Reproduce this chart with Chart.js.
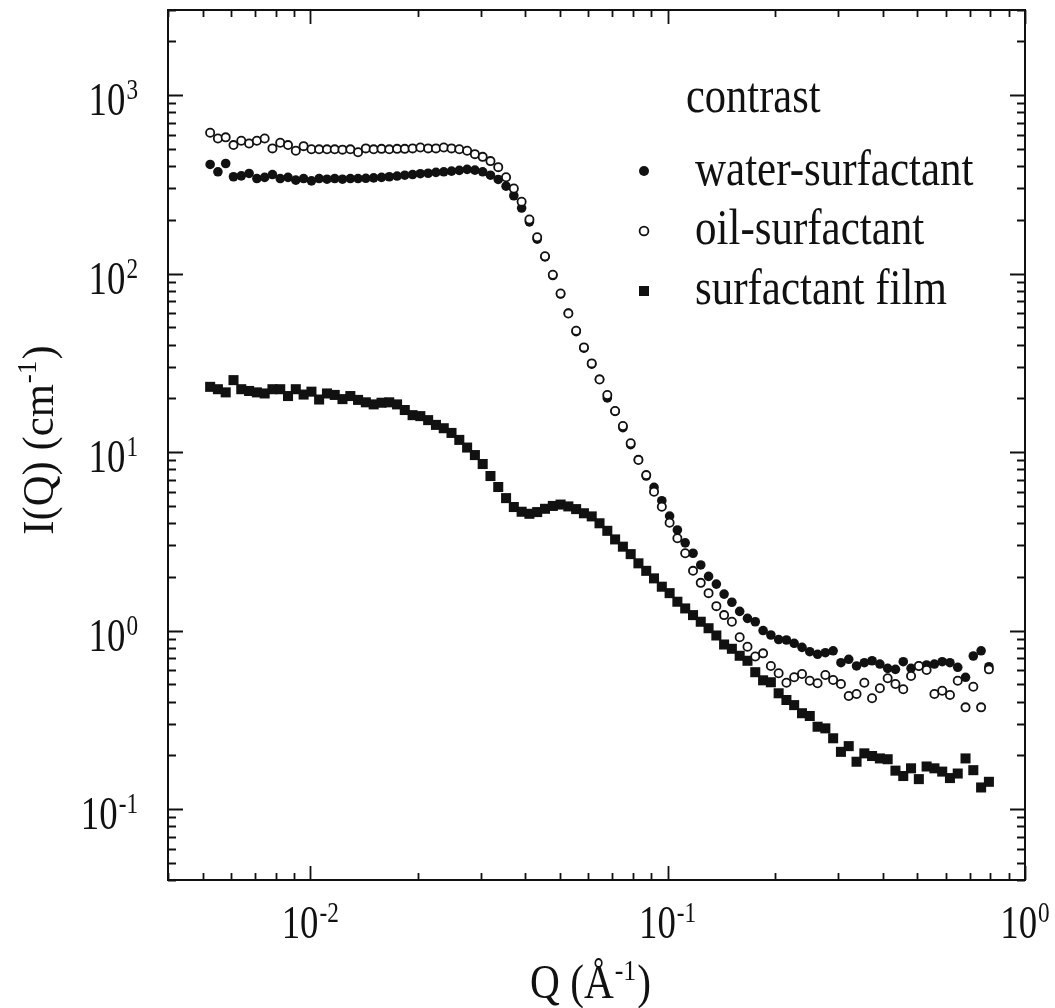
<!DOCTYPE html>
<html>
<head>
<meta charset="utf-8">
<script src="https://cdn.jsdelivr.net/npm/chart.js@4.4.1/dist/chart.umd.min.js"></script>
<style>
  html, body { margin: 0; padding: 0; background: #fff; }
  #wrap { width: 1055px; height: 1008px; }
</style>
</head>
<body>
<div id="wrap"><canvas id="c" width="1055" height="1008"></canvas></div>
<script>
// Q values (1/Angstrom)
const q = [
  0.005248, 0.005517, 0.005801, 0.006100, 0.006413, 0.006745, 0.007091, 0.007457, 0.007840, 0.008243,
  0.008667, 0.009113, 0.009583, 0.01008, 0.01059, 0.01114, 0.01171, 0.01231, 0.01295, 0.01361,
  0.01431, 0.01505, 0.01583, 0.01664, 0.01750, 0.01839, 0.01934, 0.02033, 0.02138, 0.02248,
  0.02364, 0.02485, 0.02613, 0.02748, 0.02889, 0.03038, 0.03194, 0.03358, 0.03532, 0.03713,
  0.03904, 0.04105, 0.04316, 0.04539, 0.04773, 0.05018, 0.05276, 0.05547, 0.05833, 0.06133,
  0.06449, 0.06781, 0.07130, 0.07497, 0.07883, 0.08286, 0.08713, 0.09162, 0.09634, 0.1013,
  0.1065, 0.1120, 0.1178, 0.1238, 0.1302, 0.1369, 0.1439, 0.1513, 0.1591, 0.1673,
  0.1759, 0.1850, 0.1945, 0.2045, 0.2150, 0.2260, 0.2377, 0.2499, 0.2628, 0.2763,
  0.2905, 0.3055, 0.3212, 0.3378, 0.3552, 0.3733, 0.3926, 0.4128, 0.4340, 0.4564,
  0.4799, 0.5046, 0.5305, 0.5579, 0.5866, 0.6166, 0.6483, 0.6817, 0.7168, 0.7537,
  0.7925
];

// I(Q) in cm^-1
const waterSurf = [
  409, 372, 414, 349, 353, 364, 341, 346, 359, 341,
  346, 334, 341, 331, 341, 338, 341, 338, 341, 341,
  342, 344, 346, 349, 352, 356, 359, 363, 365, 369,
  372, 375, 379, 384, 380, 372, 356, 337, 309, 273,
  233, 195, 156, 124, 97.5, 76.8, 60.1, 47.3, 38.2, 31.1,
  25.6, 20.1, 16.9, 13.7, 11.0, 9.08, 7.34, 6.34, 5.34, 4.38,
  3.66, 3.10, 2.71, 2.33, 2.01, 1.82, 1.60, 1.44, 1.28, 1.17,
  1.12, 1.00, 0.944, 0.890, 0.885, 0.848, 0.805, 0.761, 0.736, 0.751,
  0.770, 0.660, 0.690, 0.633, 0.660, 0.677, 0.649, 0.614, 0.606, 0.669,
  0.614, 0.633, 0.641, 0.649, 0.669, 0.660, 0.622, 0.547, 0.720, 0.770,
  0.627
];

const oilSurf = [
  615, 572, 580, 525, 555, 536, 555, 572, 503, 541,
  525, 488, 518, 498, 497, 497, 497, 495, 497, 479,
  503, 497, 500, 497, 500, 500, 503, 509, 503, 503,
  509, 503, 498, 488, 467, 451, 427, 395, 347, 300,
  253, 201, 160, 125, 98.5, 77.4, 59.8, 47.8, 38.6, 31.4,
  25.5, 20.9, 17.0, 14.0, 11.2, 9.02, 7.43, 5.99, 4.94, 4.02,
  3.29, 2.71, 2.16, 1.85, 1.62, 1.37, 1.22, 1.12, 0.916, 0.811,
  0.715, 0.745, 0.633, 0.576, 0.510, 0.547, 0.571, 0.523, 0.506, 0.563,
  0.528, 0.502, 0.430, 0.441, 0.510, 0.417, 0.475, 0.540, 0.502, 0.469,
  0.556, 0.633, 0.601, 0.441, 0.460, 0.435, 0.523, 0.371, 0.484, 0.371,
  0.606
];

const surfFilm = [
  23.2, 22.5, 21.6, 25.3, 22.5, 22.0, 21.6, 21.3, 22.5, 22.5,
  20.6, 22.5, 21.0, 21.8, 19.7, 21.3, 20.9, 19.8, 20.6, 19.6,
  19.0, 18.5, 18.9, 19.0, 18.5, 17.2, 16.1, 15.9, 15.1, 14.2,
  13.6, 12.8, 11.7, 10.6, 9.62, 8.57, 7.34, 6.37, 5.52, 4.92,
  4.63, 4.51, 4.61, 4.81, 4.99, 5.08, 4.96, 4.79, 4.54, 4.36,
  3.99, 3.62, 3.24, 2.95, 2.68, 2.38, 2.16, 1.96, 1.76, 1.62,
  1.45, 1.33, 1.22, 1.12, 1.03, 0.938, 0.835, 0.790, 0.722, 0.677,
  0.584, 0.526, 0.513, 0.445, 0.408, 0.382, 0.344, 0.332, 0.289, 0.283,
  0.249, 0.209, 0.225, 0.184, 0.205, 0.198, 0.192, 0.190, 0.164, 0.153,
  0.169, 0.147, 0.173, 0.169, 0.162, 0.149, 0.158, 0.192, 0.165, 0.132,
  0.142
];

const legendLabels = ["water-surfactant", "oil-surfactant", "surfactant film"];
const xMajor = [0.01, 0.1, 1];
const xMajorExp = ["-2", "-1", "0"];
const yMajor = [0.1, 1, 10, 100, 1000];
const yMajorExp = ["-1", "0", "1", "2", "3"];

const INK = "#111";
const FONT = '"Liberation Serif", "Times New Roman", serif';

const pts = (ys) => q.map((x, i) => ({ x: x, y: ys[i] }));

// text with horizontal squeeze, returns drawn width
function drawText(ctx, s, x, y, size, sx) {
  ctx.save();
  ctx.font = size + "px " + FONT;
  const w = ctx.measureText(s).width * sx;
  ctx.translate(x, y);
  ctx.scale(sx, 1);
  ctx.fillText(s, 0, 0);
  ctx.restore();
  return w;
}
function textWidth(ctx, s, size, sx) {
  ctx.save();
  ctx.font = size + "px " + FONT;
  const w = ctx.measureText(s).width * sx;
  ctx.restore();
  return w;
}

// "10" with a superscript exponent
function powWidth(ctx, exp) {
  return textWidth(ctx, "10", 46, 0.8) + 1 + textWidth(ctx, exp, 29, 0.8);
}
function drawPow(ctx, exp, x, y) {
  const w = drawText(ctx, "10", x, y, 46, 0.8);
  drawText(ctx, exp, x + w + 1, y - 16, 29, 0.8);
}

const framePlugin = {
  id: "frame",
  afterDraw(chart) {
    const ctx = chart.ctx;
    const a = chart.chartArea;
    const xs = chart.scales.x, ys = chart.scales.y;
    ctx.save();
    ctx.fillStyle = INK;
    ctx.strokeStyle = INK;
    ctx.lineWidth = 2;
    ctx.strokeRect(a.left, a.top, a.right - a.left, a.bottom - a.top);

    ctx.lineWidth = 1.8;
    ctx.beginPath();
    // x ticks, bottom and top, pointing inwards
    for (let e = -3; e <= 0; e++) {
      for (let m = 1; m <= 9; m++) {
        const v = m * Math.pow(10, e);
        if (v < xs.min || v > xs.max) continue;
        const px = Math.round(xs.getPixelForValue(v)) + 0.5;
        const len = m === 1 ? 14 : 7;
        ctx.moveTo(px, a.bottom); ctx.lineTo(px, a.bottom - len);
        ctx.moveTo(px, a.top); ctx.lineTo(px, a.top + len);
      }
    }
    // y ticks, left and right
    for (let e = -2; e <= 3; e++) {
      for (let m = 1; m <= 9; m++) {
        const v = m * Math.pow(10, e);
        if (v < ys.min || v > ys.max) continue;
        const py = Math.round(ys.getPixelForValue(v)) + 0.5;
        const len = m === 1 ? 15 : 8;
        ctx.moveTo(a.left, py); ctx.lineTo(a.left + len, py);
        ctx.moveTo(a.right, py); ctx.lineTo(a.right - len, py);
      }
    }
    ctx.stroke();

    ctx.textBaseline = "alphabetic";
    // x tick labels
    xMajor.forEach((v, i) => {
      const px = xs.getPixelForValue(v);
      const w = powWidth(ctx, xMajorExp[i]);
      drawPow(ctx, xMajorExp[i], px - w / 2, a.bottom + 58);
    });
    // y tick labels
    yMajor.forEach((v, i) => {
      const py = ys.getPixelForValue(v);
      const w = powWidth(ctx, yMajorExp[i]);
      drawPow(ctx, yMajorExp[i], 138 - w, py + 20);
    });

    // x title: Q (Å^-1)
    let x0 = 530, yb = 998;
    x0 += drawText(ctx, "Q (Å", x0, yb, 48, 0.86);
    x0 += 1;
    x0 += drawText(ctx, "-1", x0, yb - 18, 30, 0.86);
    drawText(ctx, ")", x0 + 1, yb, 48, 0.86);

    // y title: I(Q) (cm^-1), rotated
    ctx.save();
    ctx.translate(53, 440);
    ctx.rotate(-Math.PI / 2);
    const w1 = textWidth(ctx, "I(Q) (cm", 44, 0.97);
    const w2 = textWidth(ctx, "-1", 28, 0.97);
    const w3 = textWidth(ctx, ")", 44, 0.97);
    let tx = -(w1 + w2 + w3 + 2) / 2;
    tx += drawText(ctx, "I(Q) (cm", tx, 0, 44, 0.97);
    tx += 1;
    tx += drawText(ctx, "-1", tx, -17, 28, 0.97);
    drawText(ctx, ")", tx + 1, 0, 44, 0.97);
    ctx.restore();

    // legend
    drawText(ctx, "contrast", 686, 112, 50, 0.85);
    const ly = [171, 231, 291];
    const lb = [185, 244, 304];
    legendLabels.forEach((s, i) => drawText(ctx, s, 695, lb[i], 50, 0.86));
    ctx.beginPath();
    ctx.arc(644, ly[0], 5, 0, Math.PI * 2);
    ctx.fill();
    ctx.beginPath();
    ctx.lineWidth = 1.8;
    ctx.arc(644, ly[1], 4.4, 0, Math.PI * 2);
    ctx.fillStyle = "#fff";
    ctx.fill();
    ctx.stroke();
    ctx.fillStyle = INK;
    ctx.fillRect(639, ly[2] - 5, 10, 10);
    ctx.restore();
  }
};

new Chart(document.getElementById("c"), {
  type: "scatter",
  data: {
    datasets: [
      {
        label: legendLabels[1],
        data: pts(oilSurf),
        pointStyle: "circle",
        pointRadius: 4.1,
        borderWidth: 1.8,
        borderColor: INK,
        backgroundColor: "#fff"
      },
      {
        label: legendLabels[0],
        data: pts(waterSurf),
        pointStyle: "circle",
        pointRadius: 4.8,
        borderWidth: 0,
        borderColor: INK,
        backgroundColor: INK
      },
      {
        label: legendLabels[2],
        data: pts(surfFilm),
        pointStyle: "rect",
        pointRadius: 7.1,
        borderWidth: 0,
        borderColor: INK,
        backgroundColor: INK
      }
    ]
  },
  options: {
    responsive: false,
    animation: false,
    devicePixelRatio: 1,
    layout: { padding: { left: 168, right: 30, top: 10, bottom: 128 } },
    plugins: { legend: { display: false }, tooltip: { enabled: false } },
    scales: {
      x: { type: "logarithmic", min: 0.004, max: 1, display: false },
      y: { type: "logarithmic", min: 0.04, max: 3000, display: false }
    }
  },
  plugins: [framePlugin]
});
</script>
</body>
</html>
